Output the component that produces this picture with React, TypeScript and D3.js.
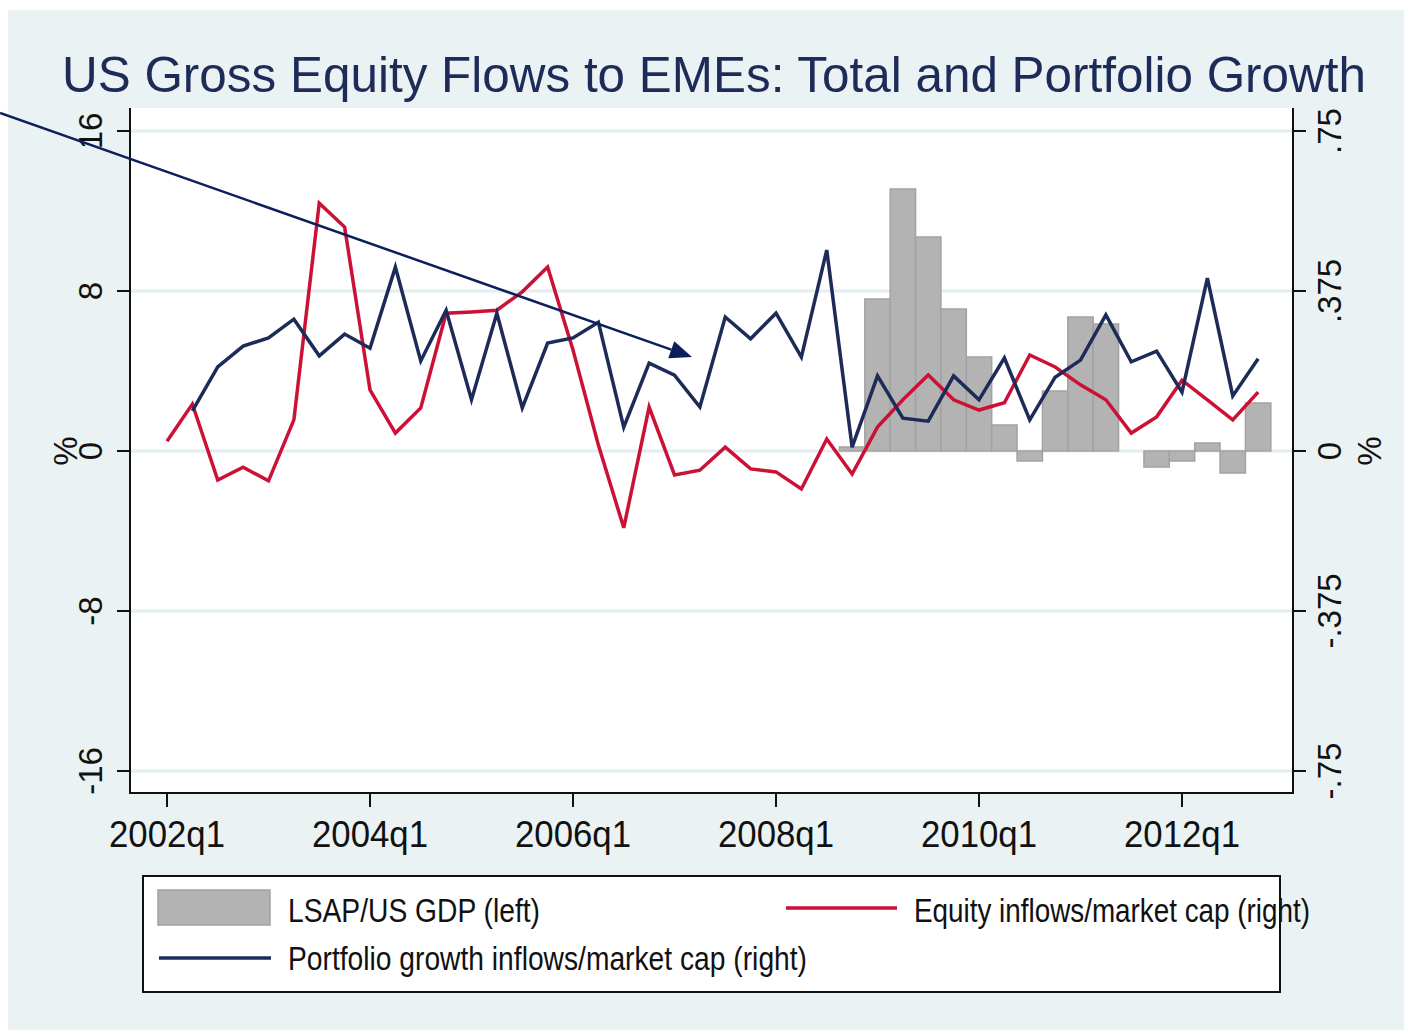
import * as d3 from 'd3';

// quarters 2002q1 .. 2012q4
const quarters: string[] = d3.range(44).map(i => `${2002 + Math.floor(i / 4)}q${(i % 4) + 1}`);
const xTickQuarters = ['2002q1', '2004q1', '2006q1', '2008q1', '2010q1', '2012q1'];

// LSAP/US GDP (left axis, %)
const lsap: (number | null)[] = [
  null, null, null, null, null, null, null, null, null, null, null,
  null, null, null, null, null, null, null, null, null, null, null,
  null, null, null, null, null, 0.2, 7.6, 13.1, 10.7, 7.1, 4.7, 1.3,
  -0.5, 3.0, 6.7, 6.35, 0, -0.8, -0.5, 0.4, -1.1, 2.4,
];

// Equity inflows/market cap (right axis, %)
const equity: (number | null)[] = [
  0.023, 0.11, -0.068, -0.038, -0.07, 0.073, 0.581, 0.525, 0.143, 0.042, 0.101,
  0.323, 0.326, 0.33, 0.373, 0.431, 0.237, 0.014, -0.18, 0.103, -0.056, -0.045,
  0.009, -0.042, -0.049, -0.089, 0.028, -0.054, 0.056, 0.12, 0.178, 0.12, 0.096,
  0.113, 0.225, 0.197, 0.155, 0.12, 0.042, 0.08, 0.166, 0.12, 0.073, 0.138,
];

// Portfolio growth inflows/market cap (right axis, %)
const portfolio: (number | null)[] = [
  null, 0.094, 0.197, 0.246, 0.265, 0.309, 0.223, 0.274, 0.241, 0.431, 0.211,
  0.33, 0.12, 0.323, 0.101, 0.253, 0.265, 0.302, 0.056, 0.206, 0.178, 0.103,
  0.314, 0.263, 0.323, 0.22, 0.471, 0.009, 0.176, 0.077, 0.07, 0.176, 0.12,
  0.218, 0.073, 0.173, 0.213, 0.319, 0.209, 0.234, 0.138, 0.405, 0.129, 0.216,
];

const leftTicks = [16, 8, 0, -8, -16];
const rightTicks = [0.75, 0.375, 0, -0.375, -0.75];
const rightTickLabels = ['.75', '.375', '0', '-.375', '-.75'];

// annotation arrow: [quarter index, left-axis value]
const arrowFrom: [number, number] = [-6.58, 16.9];
const arrowTo: [number, number] = [20.69, 4.7];

const W = 1404;
const H = 1034;
const plot = { left: 130, right: 1293, top: 108, bottom: 793 };
const BG = '#eaf2f3';
const RED = '#cc1136';
const NAVY = '#1c2b58';
const FONT = '"Liberation Sans", Arial, sans-serif';

function App() {
  const x = d3.scaleLinear().domain([0, 40]).range([167, 1182]);
  const yL = d3.scaleLinear().domain([-16, 16]).range([771, 131]);
  const yR = d3.scaleLinear().domain([-0.75, 0.75]).range([771, 131]);
  const bw = x(1) - x(0);

  const line = d3
    .line<number | null>()
    .defined(d => d != null)
    .x((_, i) => x(i))
    .y(d => yR(d as number));

  const ax0 = x(arrowFrom[0]);
  const ay0 = yL(arrowFrom[1]);
  const ax1 = x(arrowTo[0]);
  const ay1 = yL(arrowTo[1]);
  const ang = Math.atan2(ay1 - ay0, ax1 - ax0);
  const hl = 22;
  const hw = 9;
  const bx = ax1 - hl * Math.cos(ang);
  const by = ay1 - hl * Math.sin(ang);
  const head = [
    [ax1, ay1],
    [bx + hw * Math.sin(ang), by - hw * Math.cos(ang)],
    [bx - hw * Math.sin(ang), by + hw * Math.cos(ang)],
  ]
    .map(p => p.join(','))
    .join(' ');

  return (
    <svg
      width={W}
      height={H}
      style={{ position: 'absolute', left: 0, top: 0, background: '#fff' }}
      fontFamily={FONT}
    >
      <rect x={8} y={10} width={W - 8} height={H - 14} fill={BG} />
      <rect
        x={plot.left}
        y={plot.top}
        width={plot.right - plot.left}
        height={plot.bottom - plot.top}
        fill="#fff"
      />

      {/* title */}
      <text
        x={62}
        y={92}
        fontSize={50}
        fill={NAVY}
        textLength={1304}
        lengthAdjust="spacingAndGlyphs"
      >
        US Gross Equity Flows to EMEs: Total and Portfolio Growth
      </text>

      {/* grid lines */}
      {leftTicks.map(t => (
        <line
          key={t}
          x1={plot.left}
          x2={plot.right}
          y1={yL(t)}
          y2={yL(t)}
          stroke="#e4eef0"
          strokeWidth={3}
        />
      ))}

      {/* bars */}
      {lsap.map((v, i) =>
        v == null || v === 0 ? null : (
          <rect
            key={i}
            x={x(i) - bw / 2}
            width={bw}
            y={Math.min(yL(v), yL(0))}
            height={Math.abs(yL(v) - yL(0))}
            fill="#b3b3b3"
            stroke="#a2a2a2"
            strokeWidth={1.5}
          />
        )
      )}

      <path d={line(equity) ?? undefined} fill="none" stroke={RED} strokeWidth={3.5} />
      <path d={line(portfolio) ?? undefined} fill="none" stroke={NAVY} strokeWidth={3.5} />

      {/* axes */}
      <g stroke="#111" strokeWidth={2}>
        <line x1={plot.left} x2={plot.left} y1={plot.top} y2={plot.bottom} />
        <line x1={plot.right} x2={plot.right} y1={plot.top} y2={plot.bottom} />
        <line x1={plot.left - 1} x2={plot.right + 1} y1={plot.bottom} y2={plot.bottom} />
        {leftTicks.map(t => (
          <line key={'l' + t} x1={plot.left - 13} x2={plot.left} y1={yL(t)} y2={yL(t)} />
        ))}
        {rightTicks.map(t => (
          <line key={'r' + t} x1={plot.right} x2={plot.right + 13} y1={yR(t)} y2={yR(t)} />
        ))}
        {xTickQuarters.map(q => {
          const i = quarters.indexOf(q);
          return <line key={q} x1={x(i)} x2={x(i)} y1={plot.bottom} y2={plot.bottom + 14} />;
        })}
      </g>

      {/* left tick labels */}
      {leftTicks.map(t => (
        <text
          key={'lt' + t}
          transform={`translate(102,${yL(t)}) rotate(-90)`}
          textAnchor="middle"
          fontSize={33}
          fill="#111"
        >
          {String(t)}
        </text>
      ))}
      <text transform={`translate(77,${yL(0)}) rotate(-90)`} textAnchor="middle" fontSize={33} fill="#111">
        %
      </text>

      {/* right tick labels */}
      {rightTicks.map((t, k) => (
        <text
          key={'rt' + t}
          transform={`translate(1341,${yR(t)}) rotate(-90)`}
          textAnchor="middle"
          fontSize={33}
          fill="#111"
        >
          {rightTickLabels[k]}
        </text>
      ))}
      <text transform={`translate(1381,${yR(0)}) rotate(-90)`} textAnchor="middle" fontSize={33} fill="#111">
        %
      </text>

      {/* x tick labels */}
      {xTickQuarters.map(q => {
        const i = quarters.indexOf(q);
        return (
          <text
            key={'xt' + q}
            x={x(i)}
            y={847}
            textAnchor="middle"
            fontSize={37}
            fill="#111"
            textLength={116}
            lengthAdjust="spacingAndGlyphs"
          >
            {q}
          </text>
        );
      })}

      {/* arrow annotation */}
      <line x1={ax0} y1={ay0} x2={bx} y2={by} stroke="#0b1f5c" strokeWidth={2.5} />
      <polygon points={head} fill="#0b1f5c" />

      {/* legend */}
      <rect x={143} y={876} width={1137} height={116} fill="#fff" stroke="#111" strokeWidth={2} />
      <rect x={158} y={890} width={112} height={35} fill="#b3b3b3" stroke="#a2a2a2" strokeWidth={1.5} />
      <text x={288} y={922} fontSize={33} fill="#111" textLength={252} lengthAdjust="spacingAndGlyphs">
        LSAP/US GDP (left)
      </text>
      <line x1={786} x2={897} y1={908} y2={908} stroke={RED} strokeWidth={3.5} />
      <text x={914} y={922} fontSize={33} fill="#111" textLength={396} lengthAdjust="spacingAndGlyphs">
        Equity inflows/market cap (right)
      </text>
      <line x1={159} x2={271} y1={958} y2={958} stroke={NAVY} strokeWidth={3.5} />
      <text x={288} y={970} fontSize={33} fill="#111" textLength={519} lengthAdjust="spacingAndGlyphs">
        Portfolio growth inflows/market cap (right)
      </text>
    </svg>
  );
}

export default App;
